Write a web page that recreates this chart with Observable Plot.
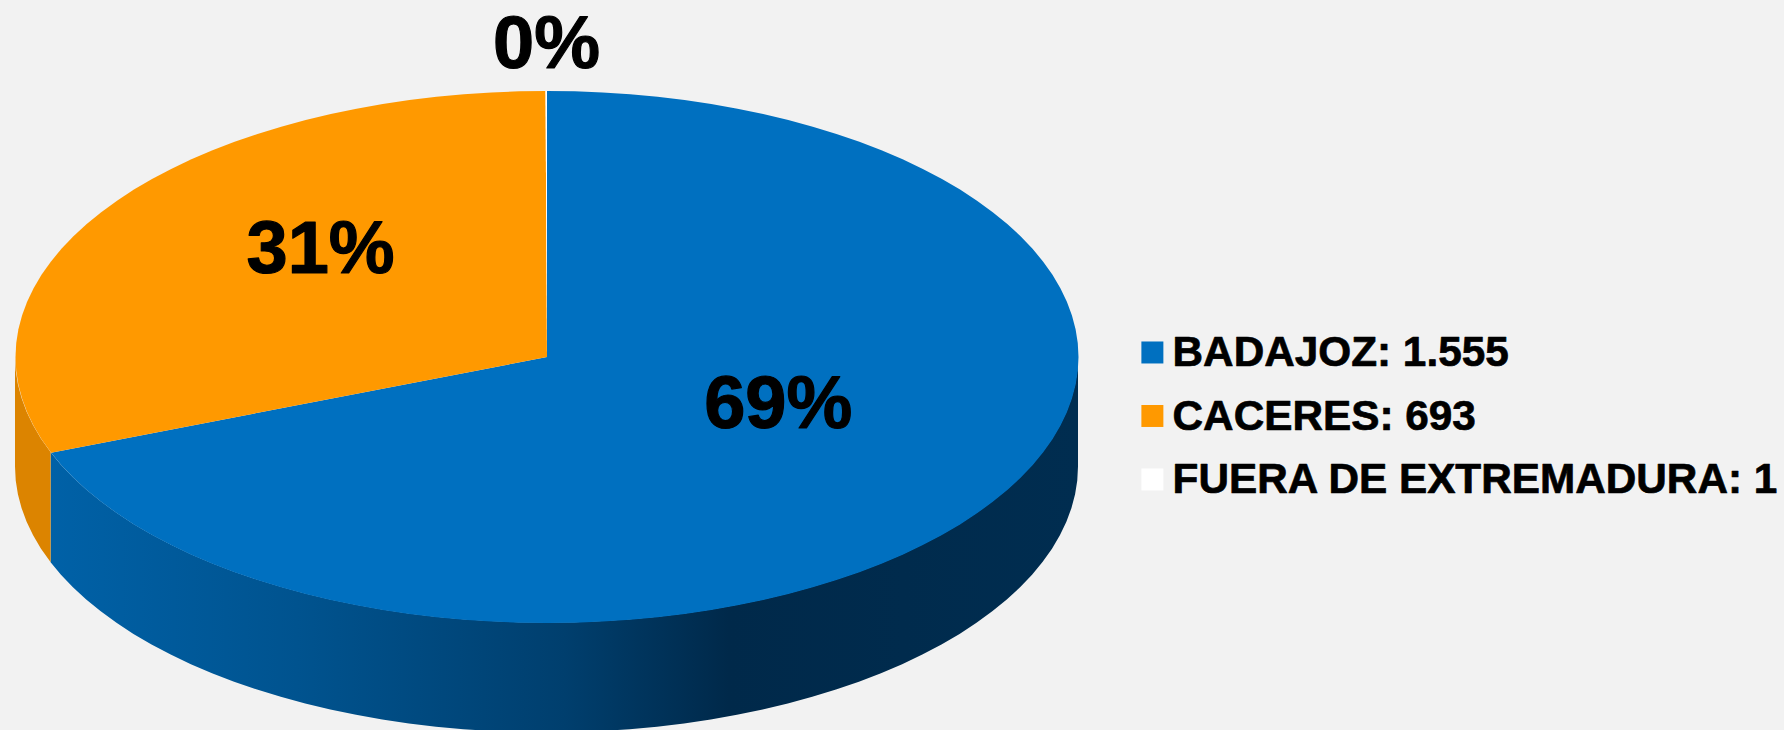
<!DOCTYPE html>
<html lang="es">
<head>
<meta charset="utf-8">
<title>Distribución por provincia</title>
<script src="https://cdn.jsdelivr.net/npm/d3@7"></script>
<script src="https://cdn.jsdelivr.net/npm/@observablehq/plot@0.6"></script>
<style>
  html, body { margin: 0; padding: 0; background: #f2f2f2; overflow: hidden; }
  svg { display: block; }
</style>
</head>
<body>
<div id="chart"></div>
<script>
// Data
const categories = ["BADAJOZ", "CACERES", "FUERA DE EXTREMADURA"];
const valueLabels = ["1.555", "693", "1"];
const values = [1555, 693, 1];

// Styles
const topColors = ["#0070c0", "#ff9900", "#ffffff"];
const orangeWall = "#dc8400";
const blueWallStops = [
  [0, "#0061a7"], [0.24, "#00538f"], [0.5, "#003f6e"],
  [0.66, "#00294a"], [1, "#002d50"]
];

// Layout in pie units (radius 1), separate from the data
const labelAt = [[0.435, -0.176], [-0.426, 0.404], [-0.001, 1.176]];
const depth = 0.4135;
const step = Math.PI / 60;
const legendSwatchX = 1.139, legendTextX = 1.177, legendTopY = 0.017, legendRow = 0.2387;

// Slices through d3.pie: clockwise from 12 o'clock, in reading order
const total = d3.sum(values);
const slices = d3.pie().sort(null)(values);

function arcPoints(a0, a1) {
  const angles = [a0];
  for (let k = Math.ceil(a0 / step + 1e-9); k * step < a1 - 1e-9; k++) angles.push(k * step);
  angles.push(a1);
  return angles.map(a => ({x: Math.sin(a), y: Math.cos(a)}));
}

const topPoints = slices.flatMap((s, i) =>
  [{x: 0, y: 0}, ...arcPoints(s.startAngle, s.endAngle)].map(p => ({...p, name: categories[i]}))
);

// Only the front half of the rim (3 o'clock to 9 o'clock) shows a wall
const walls = slices.map(s => {
  const a0 = Math.max(s.startAngle, Math.PI / 2);
  const a1 = Math.min(s.endAngle, 3 * Math.PI / 2);
  return a1 > a0 ? arcPoints(a0, a1) : [];
});

const percentLabels = values.map((v, i) => ({
  text: `${Math.round(v / total * 100)}%`, x: labelAt[i][0], y: labelAt[i][1]
}));
const legendRows = categories.map((c, i) => ({
  name: c,
  text: `${c}: ${valueLabels[i]}`,
  y: legendTopY - i * legendRow
}));

const gradientDefs = () => {
  const defs = d3.create("svg:defs");
  const g = defs.append("linearGradient").attr("id", "blueWall")
    .attr("x1", 0).attr("x2", 1).attr("y1", 0).attr("y2", 0);
  for (const [o, c] of blueWallStops) g.append("stop").attr("offset", o).attr("stop-color", c);
  return defs.node();
};

const font = {fontFamily: "Liberation Sans, Arial, sans-serif", fontWeight: "bold", fill: "#000", stroke: "#000"};

const chart = Plot.plot({
  width: 1784,
  height: 730,
  margin: 0,
  style: {background: "#f2f2f2", overflow: "hidden"},
  x: {domain: [-1, 1], range: [15, 1078], axis: null},
  y: {domain: [-1, 1], range: [622.5, 90.5], axis: null},
  color: {domain: categories, range: topColors, legend: false},
  marks: [
    gradientDefs,
    Plot.areaY(walls[0], {
      x: "x", y1: "y", y2: d => d.y - depth,
      fill: "url(#blueWall)", stroke: "none"
    }),
    Plot.areaY(walls[1], {
      x: "x", y1: "y", y2: d => d.y - depth,
      fill: orangeWall, stroke: "none"
    }),
    Plot.line(topPoints, {x: "x", y: "y", z: "name", fill: "name", stroke: "none"}),
    Plot.text(percentLabels, {
      x: "x", y: "y", text: "text", fontSize: 74, lineAnchor: "middle", textAnchor: "middle",
      strokeWidth: 1.2, paintOrder: "normal", ...font
    }),
    Plot.dot(legendRows, {
      x: () => legendSwatchX, y: "y", fill: "name", symbol: "square", r: 12.41, stroke: "none"
    }),
    Plot.text(legendRows, {
      x: () => legendTextX, y: "y", text: "text", fontSize: 42.3, lineAnchor: "middle", textAnchor: "start",
      strokeWidth: 0.7, paintOrder: "normal", ...font
    })
  ]
});
document.getElementById("chart").append(chart);
</script>
</body>
</html>
